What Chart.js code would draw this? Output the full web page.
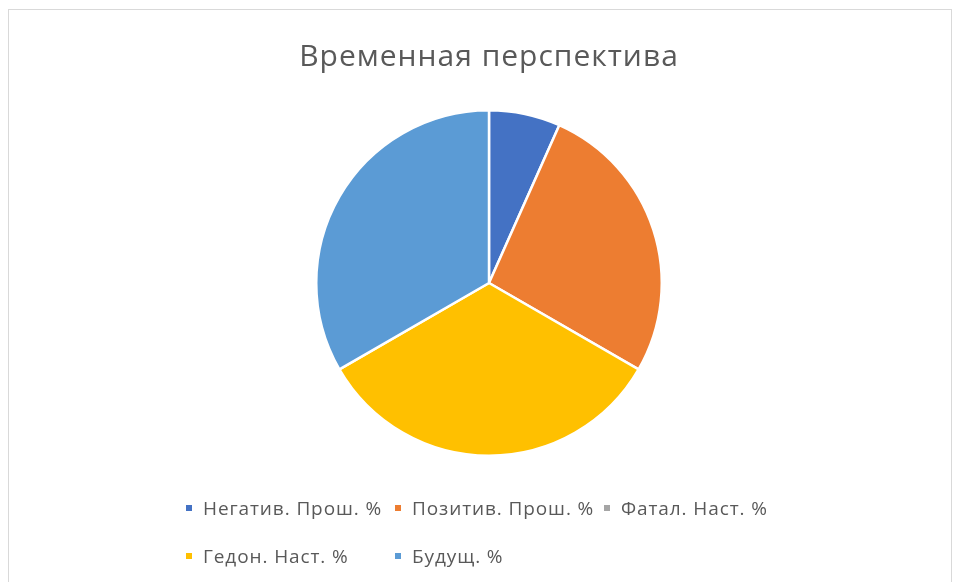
<!DOCTYPE html>
<html lang="ru">
<head>
<meta charset="utf-8">
<title>Временная перспектива</title>
<script src="https://cdn.jsdelivr.net/npm/chart.js@4/dist/chart.umd.min.js"></script>
<style>
  html, body { margin: 0; padding: 0; background: #fff; }
  #wrap { position: relative; width: 956px; height: 582px; overflow: hidden; }
  #frame {
    position: absolute; left: 8px; top: 9px; width: 944px; height: 600px;
    border: 1px solid #d9d9d9; box-sizing: border-box;
  }
  #chart { position: absolute; left: 0; top: 0; }
  #legend {
    position: absolute; left: 186px; top: 496px;
    display: grid; grid-template-columns: repeat(3, 209px); grid-auto-rows: 24px; row-gap: 24px;
    font-family: "Open Sans", sans-serif; font-size: 19px; letter-spacing: 0.9px; color: #595959;
  }
  .item { display: flex; align-items: center; white-space: nowrap; }
  .box { width: 6px; height: 6px; margin-right: 11px; flex: none; }
</style>
</head>
<body>
<div id="wrap">
  <div id="frame"></div>
  <canvas id="chart" width="956" height="582"></canvas>
  <div id="legend"></div>
</div>
<script>
// ---------------------------------------------------------------------------
// Data
// ---------------------------------------------------------------------------
const categories = [
  'Негатив. Прош. %',
  'Позитив. Прош. %',
  'Фатал. Наст. %',
  'Гедон. Наст. %',
  'Будущ.  %',
];
const shares = [6.67, 26.67, 0, 33.33, 33.33];
const sliceColors = ['#4472C4', '#ED7D31', '#A5A5A5', '#FFC000', '#5B9BD5'];

// ---------------------------------------------------------------------------
// HTML legend (Excel-style: square markers, entries laid out in columns)
// ---------------------------------------------------------------------------
const htmlLegend = {
  id: 'htmlLegend',
  afterUpdate(chart) {
    const box = document.getElementById('legend');
    box.innerHTML = '';
    const items = chart.options.plugins.legend.labels.generateLabels(chart);
    items.forEach(it => {
      const el = document.createElement('div');
      el.className = 'item';
      const sw = document.createElement('span');
      sw.className = 'box';
      sw.style.background = it.fillStyle;
      const tx = document.createElement('span');
      tx.textContent = it.text;
      el.appendChild(sw);
      el.appendChild(tx);
      box.appendChild(el);
    });
  },
};

// slightly wider tracking for the canvas title
const titleSpacing = {
  id: 'titleSpacing',
  beforeDraw(chart) { chart.ctx.letterSpacing = '1px'; },
};

new Chart(document.getElementById('chart'), {
  type: 'pie',
  data: {
    labels: categories,
    datasets: [{
      data: shares,
      backgroundColor: sliceColors,
      borderColor: '#ffffff',
      borderWidth: 2.5,
    }],
  },
  options: {
    responsive: false,
    animation: false,
    layout: { padding: { top: 0, bottom: 125, left: 22, right: 0 } },
    plugins: {
      legend: { display: false },
      tooltip: { enabled: false },
      title: {
        display: true,
        text: 'Временная перспектива',
        color: '#595959',
        font: { family: '"Open Sans", sans-serif', size: 30, weight: 'normal', lineHeight: 1.2 },
        padding: { top: 39, bottom: 34 },
      },
    },
  },
  plugins: [htmlLegend, titleSpacing],
});
</script>
</body>
</html>
